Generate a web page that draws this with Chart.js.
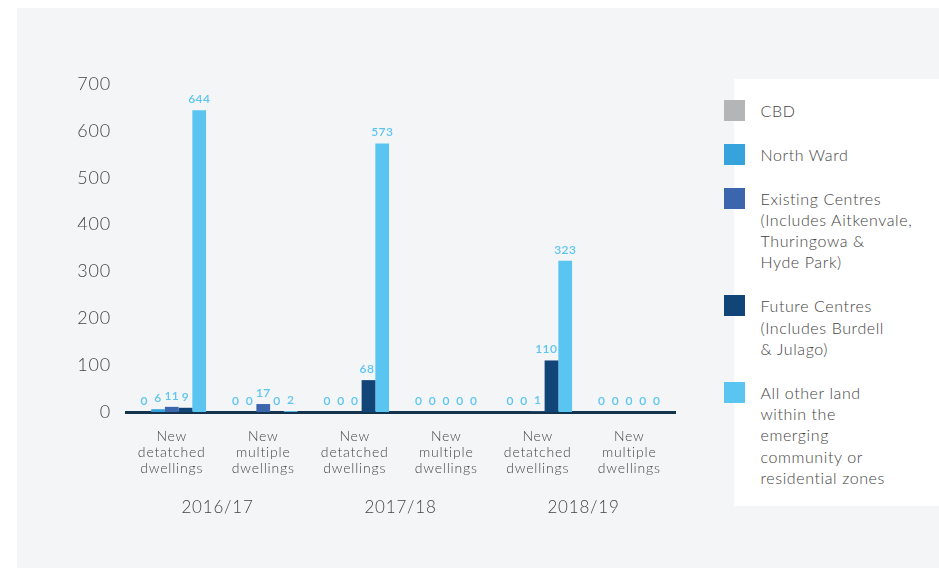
<!DOCTYPE html>
<html>
<head>
<meta charset="utf-8">
<script src="https://cdn.jsdelivr.net/npm/chart.js@4/dist/chart.umd.min.js"></script>
<style>
  html, body { margin: 0; padding: 0; background: #fff; }
  body { width: 939px; height: 568px; position: relative; overflow: hidden; font-family: Lato, sans-serif; }
  #panel { position: absolute; left: 17px; top: 8px; right: 0; bottom: 0; background: #f4f5f7; }
  #wrap { position: absolute; left: 0; top: 0; width: 720px; height: 568px; }
  #legendBox { position: absolute; left: 734px; top: 79px; width: 205px; height: 427px; background: #fff; }
  #legend { position: absolute; left: 724px; top: 100px; width: 215px; display: flex; flex-direction: column; gap: 22.5px; }
  .item { position: relative; padding-left: 36.5px; font-size: 16px; font-weight: 300; letter-spacing: 0.6px; line-height: 21.3px; color: #444; white-space: pre-line; }
  .sw { position: absolute; left: 0; top: 0; width: 21px; height: 21px; }
</style>
</head>
<body>
<div id="panel"></div>
<div id="legendBox"></div>
<div id="wrap"><canvas id="chart"></canvas></div>
<div id="legend"></div>
<script>
const categories = [
  ["New", "detatched", "dwellings"], ["New", "multiple", "dwellings"],
  ["New", "detatched", "dwellings"], ["New", "multiple", "dwellings"],
  ["New", "detatched", "dwellings"], ["New", "multiple", "dwellings"]
];
const years = ["2016/17", "2017/18", "2018/19"];

const seriesNames = [
  "CBD",
  "North Ward",
  "Existing Centres\n(Includes Aitkenvale,\nThuringowa &\nHyde Park)",
  "Future Centres\n(Includes Burdell\n& Julago)",
  "All other land\nwithin the\nemerging\ncommunity or\nresidential zones"
];
const seriesColors = ["#b4b5b6", "#36a3dd", "#3b65ad", "#124577", "#5bc5f2"];

const cbd             = [0, 0, 0, 0, 0, 0];
const northWard       = [6, 0, 0, 0, 0, 0];
const existingCentres = [11, 17, 0, 0, 1, 0];
const futureCentres   = [9, 0, 68, 0, 110, 0];
const otherLand       = [644, 2, 573, 0, 323, 0];

const yTicks = { min: 0, max: 700, step: 100 };

const seriesValues = [cbd, northWard, existingCentres, futureCentres, otherLand];

Chart.defaults.font.family = "Lato, sans-serif";

// a little tracking on all canvas text
const tracking = {
  id: "tracking",
  beforeDraw(chart) { chart.ctx.letterSpacing = "0.8px"; }
};

// value labels over each bar (zeros included); a label that would run into
// a taller bar on its right is pulled left to end at its own bar's edge
const valueLabels = {
  id: "valueLabels",
  afterDatasetsDraw(chart) {
    const ctx = chart.ctx;
    const n = chart.data.datasets.length;
    ctx.save();
    ctx.letterSpacing = "0.4px";
    ctx.font = "600 12px Lato, sans-serif";
    ctx.fillStyle = "#5bc5f2";
    ctx.textAlign = "center";
    ctx.textBaseline = "bottom";
    chart.data.datasets.forEach((ds, i) => {
      chart.getDatasetMeta(i).data.forEach((bar, j) => {
        const text = String(ds.data[j]);
        const w = ctx.measureText(text).width;
        let x = bar.x;
        const ty = bar.y - 5;
        if (i < n - 1) {
          const next = chart.getDatasetMeta(i + 1).data[j];
          const right = bar.x + bar.width / 2;
          if (next.y < ty && x + w / 2 > right) x = right - w / 2 - 1;
        }
        ctx.fillText(text, x, ty);
      });
    });
    ctx.restore();
  }
};

new Chart(document.getElementById("chart"), {
  type: "bar",
  data: {
    labels: categories,
    datasets: seriesValues.map((vals, i) => ({
      label: seriesNames[i],
      data: vals,
      backgroundColor: seriesColors[i],
      borderWidth: 0,
      barPercentage: 1,
      categoryPercentage: 0.75
    }))
  },
  options: {
    responsive: true,
    maintainAspectRatio: false,
    animation: false,
    layout: { padding: { left: 0, top: 84, right: 45, bottom: 36 } },
    plugins: { legend: { display: false }, tooltip: { enabled: false } },
    scales: {
      x: {
        weight: 0,
        grid: { display: false, drawTicks: false },
        border: { display: true, color: "#14344d", width: 3 },
        ticks: { color: "#444", font: { size: 14, weight: 300, lineHeight: 1.12 }, padding: 17, maxRotation: 0, autoSkip: false },
        afterFit(scale) { scale.height = 70; }
      },
      year: {
        type: "category",
        position: "bottom",
        weight: 1,
        labels: years,
        grid: { display: false, drawTicks: false },
        border: { display: false },
        ticks: { color: "#444", font: { size: 17, weight: 300 }, padding: 15 },
        afterFit(scale) { scale.height = 50; }
      },
      y: {
        min: yTicks.min,
        max: yTicks.max,
        grid: { display: false, drawTicks: false },
        border: { display: false },
        ticks: { stepSize: yTicks.step, color: "#444", font: { size: 18, weight: 300 }, padding: 15 },
        afterFit(scale) { scale.width = 126; }
      }
    }
  },
  plugins: [tracking, valueLabels]
});

// legend built from the series
const legend = document.getElementById("legend");
seriesNames.forEach((name, i) => {
  const item = document.createElement("div");
  item.className = "item";
  item.innerHTML = `<span class="sw" style="background:${seriesColors[i]}"></span>`;
  item.appendChild(document.createTextNode(name));
  legend.appendChild(item);
});
</script>
</body>
</html>
